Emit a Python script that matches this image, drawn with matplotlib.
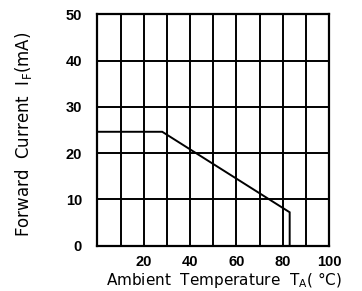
import matplotlib
matplotlib.use('Agg')
import matplotlib.pyplot as plt

# derating curve: forward current vs ambient temperature
temp = [0, 28, 83, 83]
current = [24.6, 24.6, 7.2, 0]

x_grid = list(range(0, 101, 10))
x_labels = ['', '', '20', '', '40', '', '60', '', '80', '', '100']
y_ticks = [0, 10, 20, 30, 40, 50]
y_labels = ['0', '10', '20', '30', '40', '50']

fig = plt.figure(figsize=(3.62, 2.91), dpi=100)
ax = fig.add_axes([0.269, 0.156, 0.640, 0.795])

ax.plot(temp, current, color='black', lw=1.4, solid_joinstyle='miter', zorder=3)

tick_font = dict(family='Liberation Sans', fontweight='bold', fontsize=10.5)
ax.set_xlim(0, 100)
ax.set_ylim(0, 50)
ax.set_xticks(x_grid)
ax.set_xticklabels(x_labels, **tick_font)
ax.set_yticks(y_ticks)
ax.set_yticklabels(y_labels, **tick_font)
ax.grid(True, color='black', lw=1.4)
ax.tick_params(length=0)
ax.tick_params(axis='x', pad=7)
ax.tick_params(axis='y', pad=11)
for s in ax.spines.values():
    s.set_linewidth(1.6)

fig.text(0.066, 0.538, r'Forward  Current  I$_{\mathrm{F}}$(mA)', rotation=90,
         ha='center', va='center', fontsize=12)
fig.text(0.62, 0.002, r'Ambient  Temperature  T$_{\mathrm{A}}$( °C)',
         ha='center', va='bottom', fontsize=11)

fig.savefig('out.png', dpi=100)
